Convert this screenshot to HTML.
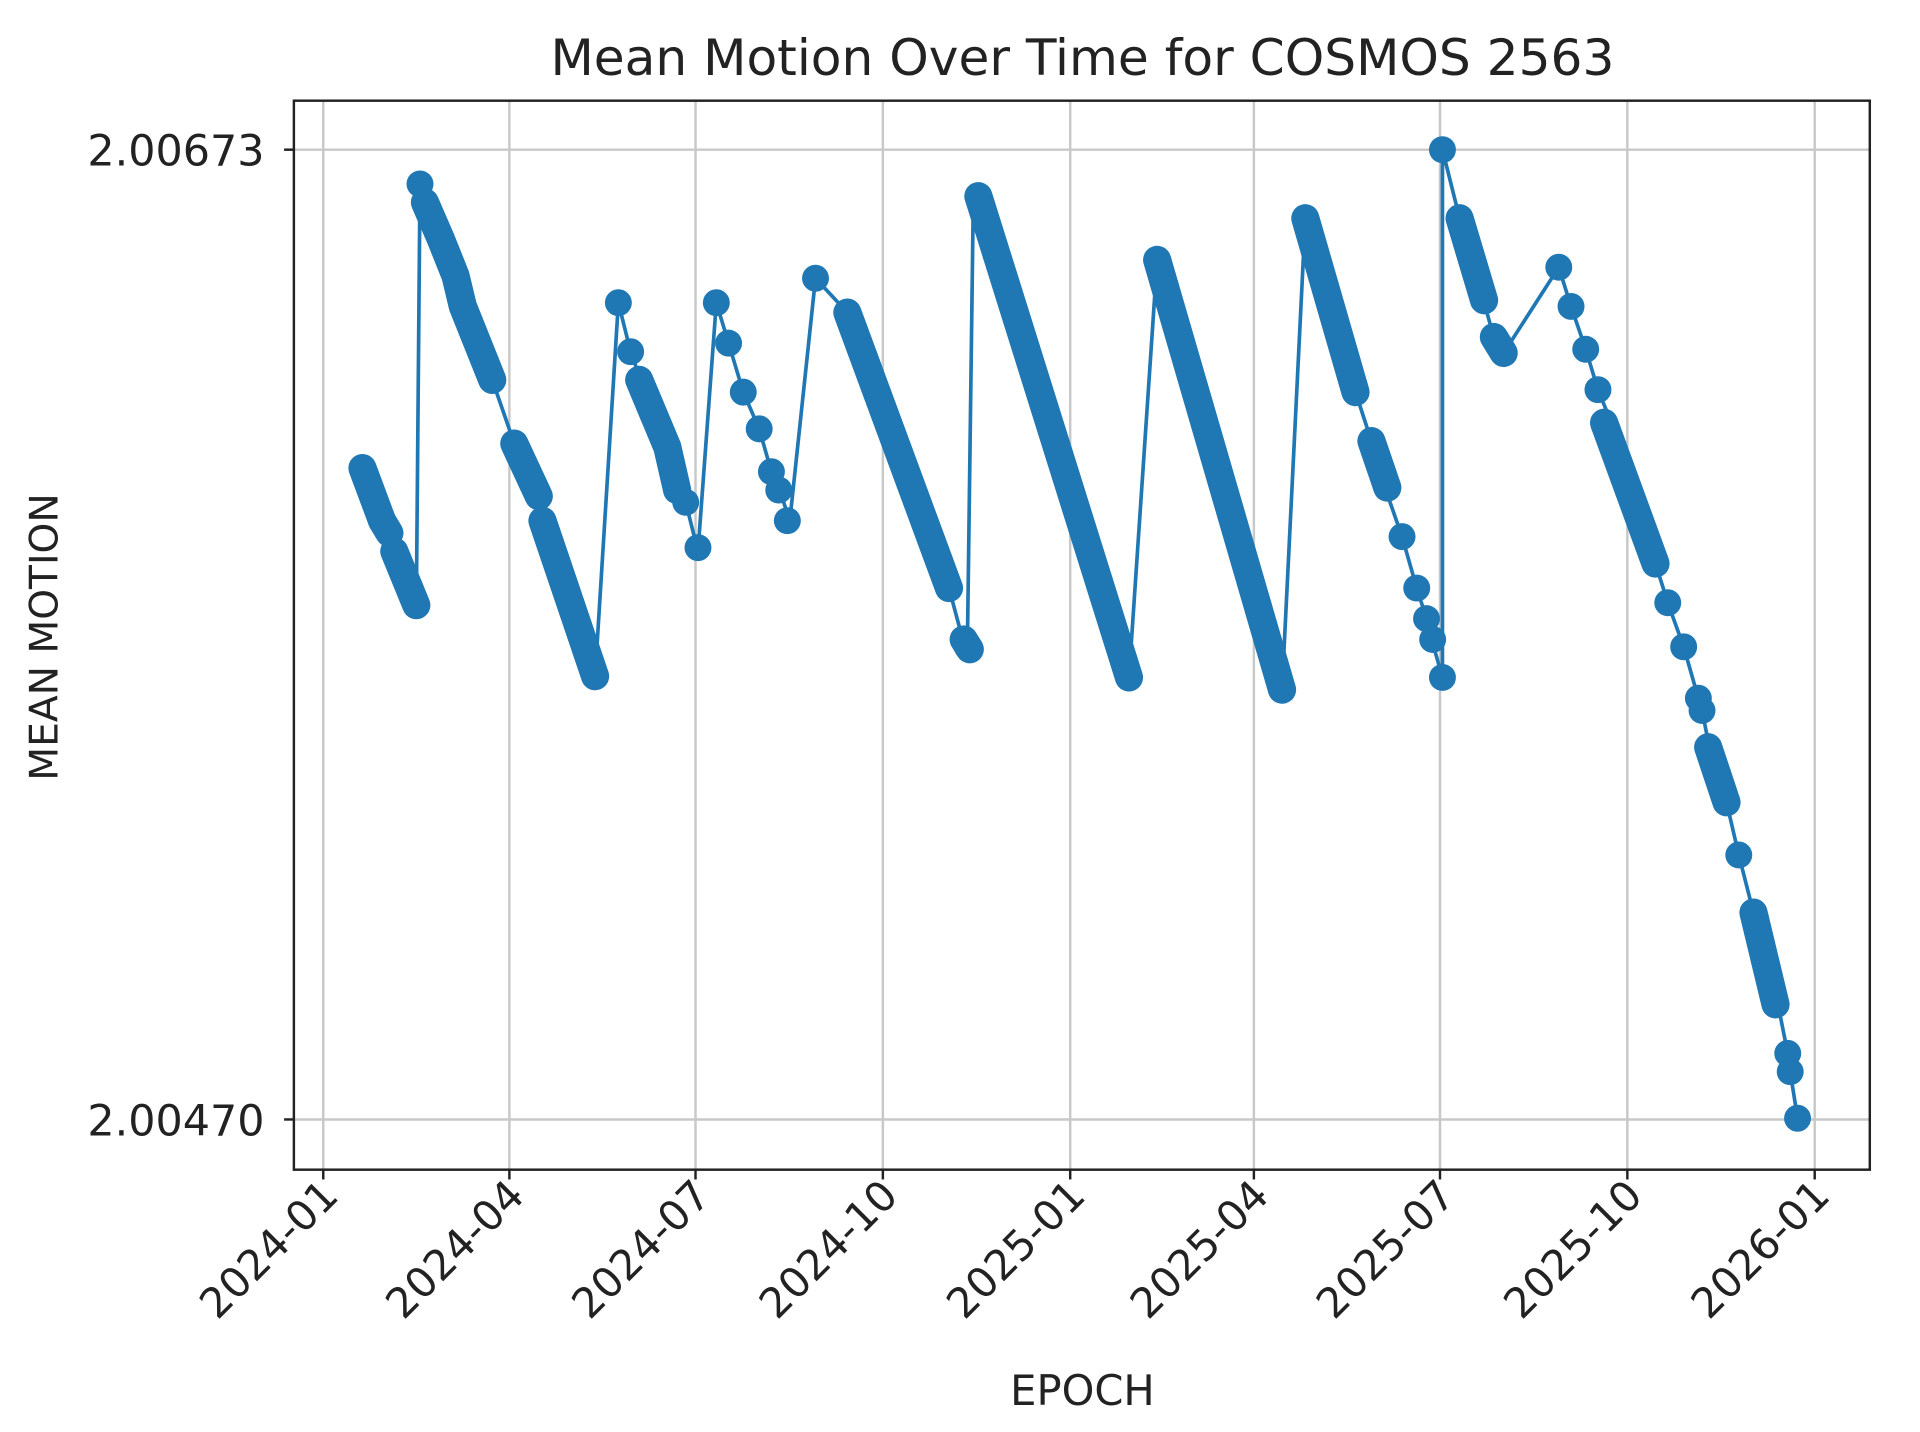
<!DOCTYPE html>
<html><head><meta charset="utf-8"><style>
html,body{margin:0;padding:0;background:#fff;}
svg{display:block;}
text{font-family:"DejaVu Sans","Liberation Sans",sans-serif;fill:#222;}
</style></head><body>
<svg width="1920" height="1432" viewBox="0 0 1568 1169" xmlns="http://www.w3.org/2000/svg">
<rect width="1568" height="1169" fill="#fff"/>
<g stroke="#c8c8c8" stroke-width="2">
<line x1="264" y1="82" x2="264" y2="955"/>
<line x1="416" y1="82" x2="416" y2="955"/>
<line x1="568" y1="82" x2="568" y2="955"/>
<line x1="721" y1="82" x2="721" y2="955"/>
<line x1="874" y1="82" x2="874" y2="955"/>
<line x1="1024" y1="82" x2="1024" y2="955"/>
<line x1="1176" y1="82" x2="1176" y2="955"/>
<line x1="1329" y1="82" x2="1329" y2="955"/>
<line x1="1482" y1="82" x2="1482" y2="955"/>
<line x1="240" y1="122" x2="1527" y2="122"/>
<line x1="240" y1="914" x2="1527" y2="914"/>
</g>
<g fill="none" stroke="#1f77b4" stroke-linecap="round" stroke-linejoin="round">
<polyline stroke-width="3" points="296,382 340,494 343,150 402,310 420,362 486,552 505,247 515,287 525,315 540,345 552,395 560,410 570,450 585,247 595,280 607,320 620,350 630,385 640,410 645,425 666,227 692,255 775,480 787,525 790,530 795,153 922,553 945,212 1047,563 1066,178 1107,320 1120,360 1130,395 1145,438 1157,480 1165,505 1170,525 1178,553 1178,122 1192,178 1200,195 1210,240 1220,275 1228,288 1273,218 1283,250 1295,285 1305,318 1318,350 1328,380 1340,420 1352,460 1362,492 1375,528 1387,570 1390,580 1398,620 1405,635 1410,655 1420,698 1432,745 1440,775 1447,800 1452,820 1460,860 1462,875 1468,913"/>
<g stroke-width="23">
<polyline points="296,382 312,425 318,435"/>
<polyline points="322,450 340,494"/>
<polyline points="347,165 360,195 372,225 378,250 402,310"/>
<polyline points="420,362 440,405"/>
<polyline points="443,425 486,552"/>
<polyline points="522,310 545,365 553,400"/>
<polyline points="692,255 775,480"/>
<polyline points="787,522 792,530"/>
<polyline points="799,160 922,553"/>
<polyline points="945,212 1047,563"/>
<polyline points="1066,178 1107,320"/>
<polyline points="1120,360 1133,398"/>
<polyline points="1192,178 1212,245"/>
<polyline points="1220,275 1228,288"/>
<polyline points="1310,345 1352,460"/>
<polyline points="1395,610 1410,655"/>
<polyline points="1432,745 1450,820"/>
</g>
</g>
<g fill="#1f77b4">
<circle cx="343" cy="150" r="11"/><circle cx="505" cy="247" r="11"/><circle cx="515" cy="287" r="11"/>
<circle cx="560" cy="410" r="11"/><circle cx="570" cy="447" r="11"/><circle cx="585" cy="247" r="11"/>
<circle cx="595" cy="280" r="11"/><circle cx="607" cy="320" r="11"/><circle cx="620" cy="350" r="11"/>
<circle cx="630" cy="385" r="11"/><circle cx="636" cy="400" r="11"/><circle cx="643" cy="425" r="11"/>
<circle cx="666" cy="227" r="11"/><circle cx="790" cy="528" r="11"/><circle cx="922" cy="553" r="11"/>
<circle cx="1145" cy="438" r="11"/><circle cx="1157" cy="480" r="11"/><circle cx="1165" cy="505" r="11"/>
<circle cx="1170" cy="522" r="11"/><circle cx="1178" cy="553" r="11"/><circle cx="1178" cy="122" r="11"/>
<circle cx="1228" cy="288" r="11"/><circle cx="1273" cy="218" r="11"/><circle cx="1283" cy="250" r="11"/>
<circle cx="1295" cy="285" r="11"/><circle cx="1305" cy="318" r="11"/><circle cx="1362" cy="492" r="11"/>
<circle cx="1375" cy="528" r="11"/><circle cx="1387" cy="570" r="11"/><circle cx="1390" cy="580" r="11"/>
<circle cx="1420" cy="698" r="11"/><circle cx="1460" cy="860" r="11"/><circle cx="1462" cy="875" r="11"/>
<circle cx="1468" cy="913" r="11"/><circle cx="1047" cy="563" r="11"/><circle cx="486" cy="552" r="11"/>
</g>
<rect x="240" y="82" width="1287" height="873" fill="none" stroke="#222" stroke-width="2"/>
<g stroke="#222" stroke-width="2">
<line x1="232" y1="122" x2="240" y2="122"/><line x1="232" y1="914" x2="240" y2="914"/>
<line x1="264" y1="955" x2="264" y2="963"/><line x1="416" y1="955" x2="416" y2="963"/>
<line x1="568" y1="955" x2="568" y2="963"/><line x1="721" y1="955" x2="721" y2="963"/>
<line x1="874" y1="955" x2="874" y2="963"/><line x1="1024" y1="955" x2="1024" y2="963"/>
<line x1="1176" y1="955" x2="1176" y2="963"/><line x1="1329" y1="955" x2="1329" y2="963"/>
<line x1="1482" y1="955" x2="1482" y2="963"/>
</g>
<g font-size="35" text-anchor="end">
<text x="216" y="135">2.00673</text>
<text x="216" y="927">2.00470</text>
</g>
<g font-size="34" text-anchor="end">
<text transform="translate(278,978) rotate(-45)">2024-01</text>
<text transform="translate(430,978) rotate(-45)">2024-04</text>
<text transform="translate(582,978) rotate(-45)">2024-07</text>
<text transform="translate(735,978) rotate(-45)">2024-10</text>
<text transform="translate(888,978) rotate(-45)">2025-01</text>
<text transform="translate(1038,978) rotate(-45)">2025-04</text>
<text transform="translate(1190,978) rotate(-45)">2025-07</text>
<text transform="translate(1343,978) rotate(-45)">2025-10</text>
<text transform="translate(1496,978) rotate(-45)">2026-01</text>
</g>
<text x="884" y="61" font-size="41" text-anchor="middle">Mean Motion Over Time for COSMOS 2563</text>
<text x="884" y="1147" font-size="34" text-anchor="middle">EPOCH</text>
<text transform="translate(47,520) rotate(-90)" font-size="32" text-anchor="middle">MEAN MOTION</text>
</svg>
</body></html>
